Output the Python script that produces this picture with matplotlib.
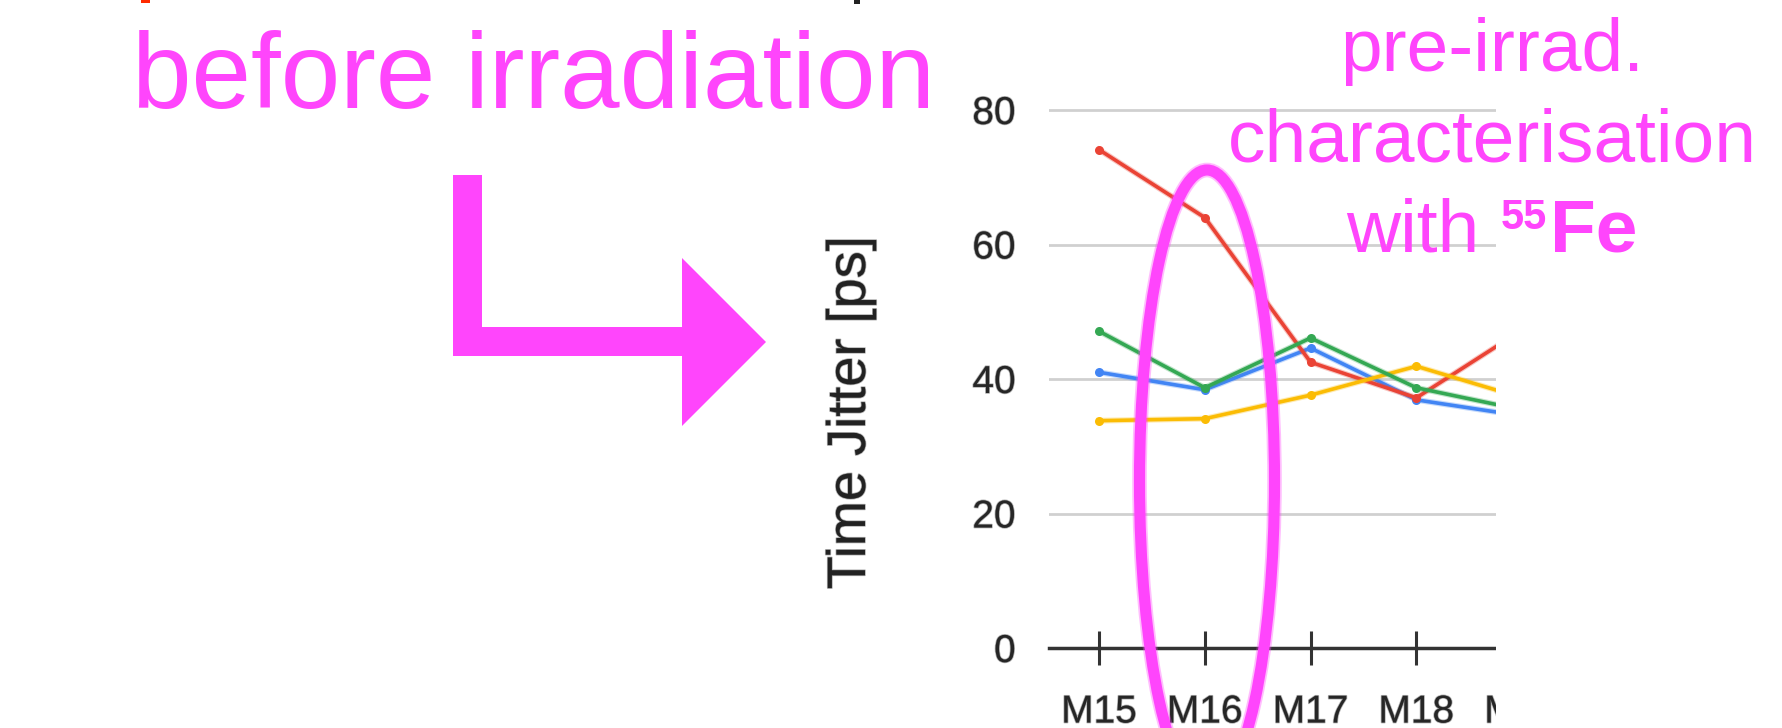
import matplotlib
matplotlib.use("Agg")
import matplotlib.pyplot as plt
import matplotlib.patheffects as pe
from matplotlib.patches import Polygon, Ellipse, Rectangle

# ---- data -------------------------------------------------------------
categories = ["M15", "M16", "M17", "M18", "M19"]
jitter_blue = [41.0, 38.4, 44.6, 36.9, 34.5]
jitter_red = [74.1, 64.0, 42.5, 37.2, 47.3]
jitter_yellow = [33.8, 34.1, 37.6, 41.9, 37.2]
jitter_green = [47.1, 38.7, 46.1, 38.7, 35.4]
y_ticks = [0, 20, 40, 60, 80]
y_label = "Time Jitter [ps]"

series = [
    (jitter_blue, "#4285F4"),
    (jitter_red, "#EA4335"),
    (jitter_yellow, "#FBBC04"),
    (jitter_green, "#34A853"),
]

MAGENTA = "#FF45FC"
W, H, DPI = 1782, 728, 100

plt.rcParams["font.family"] = ["Liberation Sans", "DejaVu Sans"]

fig = plt.figure(figsize=(W / DPI, H / DPI), dpi=DPI)
fig.patch.set_facecolor("white")

# ---- chart ------------------------------------------------------------
px_per_unit = 6.725
y_top = 84
ax_left_px, ax_right_px = 1049, 1575
ax_bottom_px = 648
ax = fig.add_axes([ax_left_px / W, (H - ax_bottom_px) / H,
                   (ax_right_px - ax_left_px) / W, y_top * px_per_unit / H])
ax.set_facecolor("none")

soft_text = [pe.withStroke(linewidth=1.2, foreground="#555555", alpha=0.45)]

x = list(range(len(categories)))
for vals, col in series:
    ax.plot(x, vals, color=col, lw=2.6, solid_joinstyle="round",
            path_effects=[pe.Stroke(linewidth=4.2, foreground=col, alpha=0.3),
                          pe.Normal()])
    ax.plot(x, vals, linestyle="none", color=col, marker="o", ms=6.5,
            markeredgewidth=0)

ax.set_xlim(-0.473, 4.5)
ax.set_ylim(0, y_top)
ax.set_yticks(y_ticks)
ax.set_yticklabels([str(v) for v in y_ticks])
ax.set_xticks(x)
ax.set_xticklabels(categories)
ax.yaxis.grid(True, color="#d0d0d0", lw=2.0)
ax.set_axisbelow(True)
for side in ("top", "right", "left"):
    ax.spines[side].set_visible(False)
ax.spines["bottom"].set_color("#333333")
ax.spines["bottom"].set_linewidth(2.5)
ax.tick_params(axis="y", length=0, pad=24, labelsize=28, labelcolor="#262626")
ax.tick_params(axis="x", direction="inout", length=25, width=2.2, color="#333333",
               pad=21, labelsize=28, labelcolor="#262626")
for lab in ax.get_xticklabels() + ax.get_yticklabels():
    lab.set_path_effects(soft_text)
ax.set_ylabel(y_label, fontsize=39, color="#222222", va="center",
              path_effects=soft_text)
ax.yaxis.set_label_coords((851 - ax_left_px) / (ax_right_px - ax_left_px),
                          (ax_bottom_px - 413) / (y_top * px_per_unit))

# ---- annotation layer (pixel coordinates) ------------------------------
ov = fig.add_axes([0, 0, 1, 1], zorder=10)
ov.set_xlim(0, W)
ov.set_ylim(H, 0)
ov.axis("off")
ov.patch.set_alpha(0)

# chart crop edge on the right
ov.add_patch(Rectangle((1496, 0), W - 1496, H, facecolor="white",
                       edgecolor="none", zorder=0))

# bits of the line above
ov.add_patch(Rectangle((141, 0), 9, 3, facecolor="#ff2a00", edgecolor="none", zorder=1))
ov.add_patch(Rectangle((854, 0), 6, 4, facecolor="#222222", edgecolor="none", zorder=1))

# bent arrow
arrow = [(453, 175), (482, 175), (482, 327), (682, 327), (682, 258),
         (766, 342), (682, 426), (682, 356), (453, 356)]
ov.add_patch(Polygon(arrow, closed=True, facecolor=MAGENTA, edgecolor="none", zorder=2))

# hand-drawn ring around M16
ov.add_patch(Ellipse((1207, 481), 135, 622, fill=False, edgecolor=MAGENTA,
                     lw=10.5, alpha=0.35, zorder=3))
ov.add_patch(Ellipse((1207, 481), 135, 622, fill=False, edgecolor=MAGENTA,
                     lw=8.0, zorder=3))

ov.text(132, 108, "before irradiation", fontsize=77, color=MAGENTA,
        ha="left", va="baseline", zorder=4)

cx = 1492
ov.text(cx, 71, "pre-irrad.", fontsize=54, color=MAGENTA,
        ha="center", va="baseline", zorder=4)
ov.text(cx, 162, "characterisation", fontsize=54, color=MAGENTA,
        ha="center", va="baseline", zorder=4)

t1 = ov.text(0, 252, "with ", fontsize=54, color=MAGENTA,
             ha="left", va="baseline", zorder=4)
t2 = ov.text(0, 229, "55", fontsize=30, fontweight="bold", color=MAGENTA,
             ha="left", va="baseline", zorder=4)
t3 = ov.text(0, 252, "Fe", fontsize=54, fontweight="bold", color=MAGENTA,
             ha="left", va="baseline", zorder=4)
renderer = fig.canvas.get_renderer()
w1 = t1.get_window_extent(renderer).width
w2 = t2.get_window_extent(renderer).width
w3 = t3.get_window_extent(renderer).width
gap = 4
x0 = cx - (w1 + w2 + gap + w3) / 2
t1.set_x(x0)
t2.set_x(x0 + w1)
t3.set_x(x0 + w1 + w2 + gap)

fig.savefig("out.png", dpi=DPI)
